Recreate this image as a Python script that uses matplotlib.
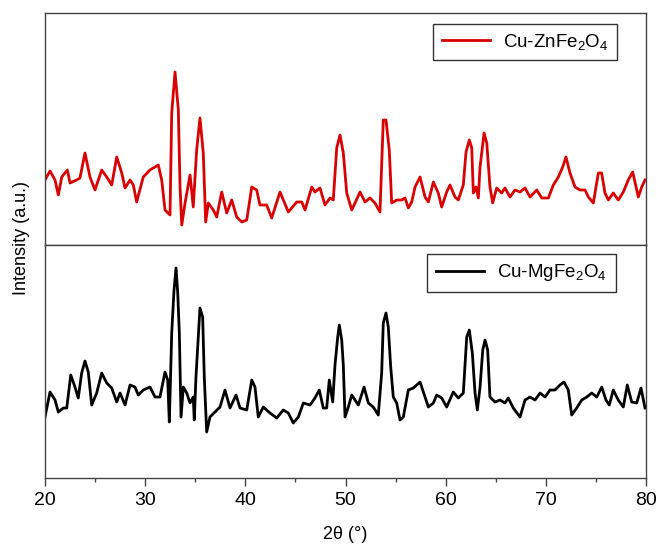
import matplotlib
matplotlib.use("Agg")
from matplotlib import pyplot as plt
from matplotlib.ticker import MultipleLocator

# XRD pattern of Cu-ZnFe2O4 (a.u.)
two_theta_zn = [20.00, 20.50, 21.00, 21.33, 21.67, 22.23, 22.50, 23.16, 23.49, 23.99,
                24.49, 24.99, 25.66, 26.16, 26.66, 27.16, 27.66, 27.99, 28.49, 28.82,
                29.15, 29.81, 30.48, 30.98, 31.31, 31.65, 31.98, 32.48, 32.65, 32.98,
                33.31, 33.48, 33.65, 33.98, 34.48, 34.80, 35.14, 35.47, 35.80, 36.04,
                36.30, 36.80, 37.14, 37.64, 38.14, 38.64, 39.14, 39.64, 40.14, 40.64,
                41.13, 41.46, 42.13, 42.63, 43.46, 44.29, 45.13, 45.63, 45.96, 46.63,
                46.95, 47.45, 47.95, 48.45, 48.78, 49.12, 49.45, 49.78, 50.12, 50.62,
                50.95, 51.45, 51.95, 52.45, 52.94, 53.44, 53.77, 54.04, 54.37, 54.61,
                55.11, 55.61, 55.94, 56.27, 56.61, 56.94, 57.44, 57.94, 58.27, 58.77,
                59.26, 59.60, 60.10, 60.43, 60.93, 61.26, 61.76, 62.03, 62.36, 62.60,
                62.76, 63.03, 63.26, 63.43, 63.83, 64.10, 64.42, 64.69, 65.09, 65.59,
                65.92, 66.42, 66.92, 67.42, 67.92, 68.42, 69.09, 69.59, 70.25, 70.75,
                71.25, 71.68, 72.01, 72.41, 72.91, 73.41, 73.91, 74.24, 74.74, 75.24,
                75.57, 75.90, 76.24, 76.73, 77.23, 77.73, 78.23, 78.67, 79.00, 79.23,
                79.57, 79.90]
intensity_zn = [65, 74, 65, 50, 68, 75, 62, 65, 67, 92,
                68, 55, 75, 68, 60, 88, 72, 57, 65, 60,
                43, 68, 75, 78, 80, 65, 35, 30, 132, 173,
                135, 58, 20, 42, 70, 38, 95, 127, 92, 23,
                42, 35, 28, 53, 32, 45, 28, 23, 25, 58,
                55, 40, 40, 27, 53, 33, 43, 43, 35, 58,
                53, 57, 40, 47, 45, 97, 110, 92, 52, 35,
                42, 53, 43, 47, 42, 33, 125, 125, 95, 42,
                45, 45, 47, 37, 43, 58, 68, 48, 43, 63,
                52, 38, 53, 60, 48, 45, 60, 93, 105, 97,
                52, 58, 47, 78, 112, 102, 58, 42, 57, 52,
                57, 48, 55, 53, 57, 48, 55, 47, 47, 60,
                68, 78, 88, 72, 58, 55, 55, 48, 42, 72,
                72, 52, 45, 52, 45, 53, 65, 73, 58, 48,
                58, 65]

# XRD pattern of Cu-MgFe2O4
two_theta_mg = [20.00, 20.50, 21.00, 21.33, 21.83, 22.17, 22.57, 22.99, 23.32, 23.66,
                23.99, 24.32, 24.66, 25.16, 25.66, 26.16, 26.66, 27.16, 27.49, 27.99,
                28.49, 28.98, 29.31, 29.81, 30.48, 30.98, 31.48, 31.98, 32.25, 32.41,
                32.65, 32.88, 33.08, 33.25, 33.41, 33.58, 33.81, 34.15, 34.48, 34.80,
                34.90, 35.07, 35.30, 35.47, 35.74, 35.90, 36.14, 36.47, 36.97, 37.47,
                37.97, 38.47, 39.07, 39.47, 40.14, 40.64, 40.96, 41.29, 41.79, 42.46,
                43.13, 43.79, 44.29, 44.79, 45.29, 45.79, 46.46, 46.95, 47.38, 47.78,
                48.12, 48.38, 48.72, 48.95, 49.22, 49.38, 49.62, 49.78, 49.95, 50.28,
                50.62, 51.28, 51.85, 52.28, 52.77, 53.27, 53.61, 53.77, 54.04, 54.27,
                54.51, 54.77, 55.11, 55.44, 55.77, 56.27, 56.77, 57.44, 57.94, 58.27,
                58.77, 59.10, 59.60, 60.10, 60.76, 61.26, 61.76, 62.10, 62.36, 62.66,
                62.93, 63.16, 63.43, 63.70, 63.93, 64.19, 64.42, 64.92, 65.42, 65.92,
                66.25, 66.75, 67.42, 67.92, 68.42, 68.92, 69.42, 69.92, 70.41, 70.91,
                71.41, 71.81, 72.24, 72.58, 73.08, 73.58, 74.08, 74.58, 75.08, 75.58,
                76.00, 76.33, 76.73, 77.23, 77.73, 78.13, 78.57, 79.07, 79.50, 79.90]
intensity_mg = [61, 86, 78, 66, 70, 70, 103, 91, 80, 105,
                117, 106, 73, 85, 105, 95, 90, 76, 85, 73,
                93, 91, 83, 88, 91, 81, 81, 106, 98, 56,
                145, 188, 210, 185, 145, 61, 91, 85, 75, 81,
                58, 101, 141, 170, 161, 101, 46, 61, 66, 71,
                88, 70, 83, 70, 68, 98, 91, 61, 71, 65,
                60, 68, 65, 55, 61, 75, 73, 80, 88, 70,
                70, 98, 76, 113, 141, 153, 138, 113, 61, 71,
                83, 73, 91, 75, 71, 63, 105, 155, 165, 151,
                111, 81, 75, 58, 61, 88, 90, 96, 81, 71,
                75, 83, 80, 71, 86, 80, 85, 141, 148, 125,
                85, 68, 91, 128, 138, 128, 81, 76, 78, 75,
                80, 70, 61, 78, 81, 78, 85, 81, 88, 88,
                93, 96, 88, 63, 70, 78, 81, 85, 81, 91,
                78, 73, 88, 78, 71, 93, 76, 75, 90, 70]

plt.rcParams['font.family'] = ['Liberation Sans', 'DejaVu Sans']

fig = plt.figure(figsize=(6.57, 5.46), dpi=100)
ax_top = fig.add_axes([0.0685, 0.5513, 0.9148, 0.4249])
ax_bot = fig.add_axes([0.0685, 0.1245, 0.9148, 0.4268], sharex=ax_top)

ax_top.plot(two_theta_zn, intensity_zn, color='#d80000', lw=2.0,
            label=r'Cu-ZnFe$\mathregular{_2}$O$\mathregular{_4}$')
ax_bot.plot(two_theta_mg, intensity_mg, color='black', lw=2.0,
            label=r'Cu-MgFe$\mathregular{_2}$O$\mathregular{_4}$')

ax_top.set_ylim(0, 232)
ax_bot.set_ylim(0, 233)
ax_bot.set_xlim(20, 80)

for ax in (ax_top, ax_bot):
    for sp in ax.spines.values():
        sp.set_color('#444444')
        sp.set_linewidth(1.0)
    ax.set_yticks([])

ax_top.tick_params(axis='x', which='both', bottom=False, labelbottom=False)
ax_bot.xaxis.set_major_locator(MultipleLocator(10))
ax_bot.xaxis.set_minor_locator(MultipleLocator(5))
ax_bot.tick_params(axis='x', which='major', direction='out', length=6,
                   width=1, color='#444444', labelsize=14, pad=4)
ax_bot.tick_params(axis='x', which='minor', direction='out', length=3,
                   width=1, color='#444444')
ax_bot.set_xlabel('2θ (°)', fontsize=13, labelpad=12)

fig.text(0.032, 0.565, 'Intensity (a.u.)', rotation=90, fontsize=13,
         ha='center', va='center')

legend_style = dict(loc='upper right', fontsize=13.5, frameon=True,
                    fancybox=False, edgecolor='#333333', framealpha=1,
                    handlelength=2.6, borderpad=0.45, handletextpad=0.7)
leg1 = ax_top.legend(bbox_to_anchor=(0.968, 0.995), **legend_style)
leg2 = ax_bot.legend(bbox_to_anchor=(0.965, 1.003), **legend_style)
for leg in (leg1, leg2):
    leg.get_frame().set_linewidth(1.0)

fig.savefig('out.png', dpi=100)
